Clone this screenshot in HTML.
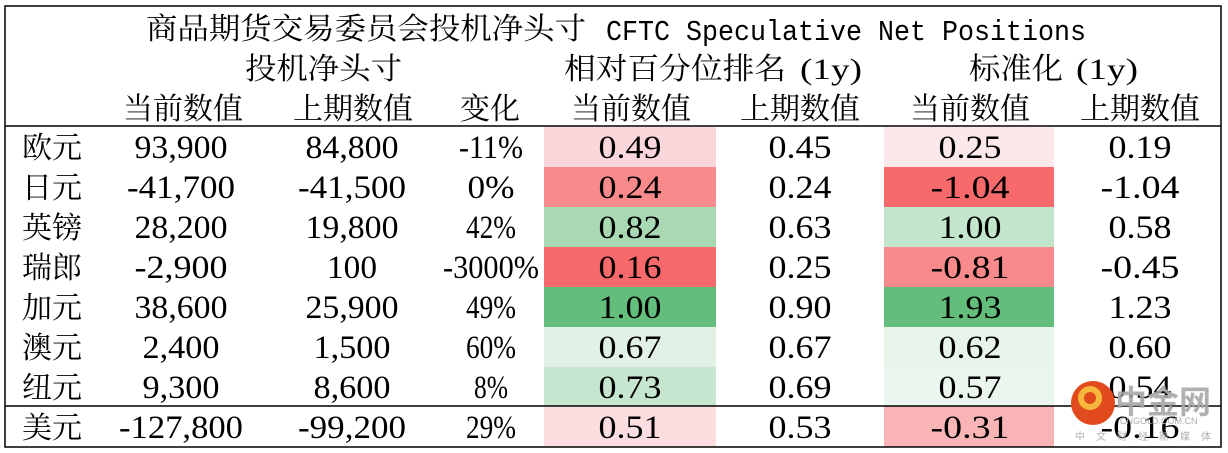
<!DOCTYPE html>
<html><head><meta charset="utf-8"><style>
html,body{margin:0;padding:0;background:#fff;}
svg{display:block;}
.c{font-family:"Noto Serif CJK SC","Liberation Serif",serif;font-size:30px;fill:#000;}
.n{font-family:"Liberation Serif",serif;font-size:33px;fill:#000;}
</style></head><body>
<svg width="1228" height="453" viewBox="0 0 1228 453" xmlns="http://www.w3.org/2000/svg">
<rect x="0" y="0" width="1228" height="453" fill="#fff"/>
<g>
<rect x="544" y="127" width="172" height="40" fill="#fbd7dc"/>
<rect x="544" y="167" width="172" height="40" fill="#f88a8c"/>
<rect x="544" y="207" width="172" height="40" fill="#a8d9b3"/>
<rect x="544" y="247" width="172" height="40" fill="#f8696b"/>
<rect x="544" y="287" width="172" height="40" fill="#63be7b"/>
<rect x="544" y="327" width="172" height="40" fill="#e1f1e5"/>
<rect x="544" y="367" width="172" height="39" fill="#c6e6cf"/>
<rect x="544" y="406" width="172" height="41" fill="#fcdde0"/>
<rect x="884" y="127" width="170" height="40" fill="#fce8eb"/>
<rect x="884" y="167" width="170" height="40" fill="#f8696b"/>
<rect x="884" y="207" width="170" height="40" fill="#c3e5cc"/>
<rect x="884" y="247" width="170" height="40" fill="#f98a8c"/>
<rect x="884" y="287" width="170" height="40" fill="#63be7b"/>
<rect x="884" y="327" width="170" height="40" fill="#e8f5eb"/>
<rect x="884" y="367" width="170" height="39" fill="#ebf6ee"/>
<rect x="884" y="406" width="170" height="41" fill="#f9b4b6"/>
</g>
<rect x="5" y="6" width="1216" height="441" fill="none" stroke="#000" stroke-width="1.5"/>
<line x1="5" y1="126" x2="1221" y2="126" stroke="#000" stroke-width="1.5"/>
<line x1="5" y1="406" x2="1221" y2="406" stroke="#000" stroke-width="1.5"/>

<text class="c" x="146" y="39" textLength="440" lengthAdjust="spacingAndGlyphs">商品期货交易委员会投机净头寸</text>
<text x="606" y="40" style="font-family:'Liberation Mono',monospace;font-size:29px" textLength="480" lengthAdjust="spacingAndGlyphs">CFTC Speculative Net Positions</text>
<text class="c" x="245" y="79" textLength="157" lengthAdjust="spacingAndGlyphs">投机净头寸</text>
<text class="c" x="564" y="79" textLength="222" lengthAdjust="spacingAndGlyphs">相对百分位排名</text>
<text x="800" y="79" style="font-family:'Liberation Serif',serif;font-size:30px" textLength="62" lengthAdjust="spacingAndGlyphs">(1y)</text>
<text class="c" x="969" y="79" textLength="94" lengthAdjust="spacingAndGlyphs">标准化</text>
<text x="1076" y="79" style="font-family:'Liberation Serif',serif;font-size:30px" textLength="62" lengthAdjust="spacingAndGlyphs">(1y)</text>
<g class="c" text-anchor="middle">
<text x="183" y="119">当前数值</text>
<text x="353" y="119">上期数值</text>
<text x="490" y="119">变化</text>
<text x="631" y="119">当前数值</text>
<text x="800" y="119">上期数值</text>
<text x="970" y="119">当前数值</text>
<text x="1140" y="119">上期数值</text>
</g>
<g class="c">
<text x="22" y="158">欧元</text>
<text x="22" y="198">日元</text>
<text x="22" y="238">英镑</text>
<text x="22" y="278">瑞郎</text>
<text x="22" y="318">加元</text>
<text x="22" y="358">澳元</text>
<text x="22" y="398">纽元</text>
<text x="22" y="438">美元</text>
</g>
<g class="n" text-anchor="middle">
<text x="181" y="158" textLength="93" lengthAdjust="spacingAndGlyphs">93,900</text>
<text x="352" y="158" textLength="93" lengthAdjust="spacingAndGlyphs">84,800</text>
<text x="491" y="158" textLength="64" lengthAdjust="spacingAndGlyphs">-11%</text>
<text x="630" y="158" textLength="63" lengthAdjust="spacingAndGlyphs">0.49</text>
<text x="800" y="158" textLength="63" lengthAdjust="spacingAndGlyphs">0.45</text>
<text x="970" y="158" textLength="63" lengthAdjust="spacingAndGlyphs">0.25</text>
<text x="1140" y="158" textLength="63" lengthAdjust="spacingAndGlyphs">0.19</text>

<text x="181" y="198" textLength="108" lengthAdjust="spacingAndGlyphs">-41,700</text>
<text x="352" y="198" textLength="108" lengthAdjust="spacingAndGlyphs">-41,500</text>
<text x="491" y="198" textLength="47" lengthAdjust="spacingAndGlyphs">0%</text>
<text x="630" y="198" textLength="63" lengthAdjust="spacingAndGlyphs">0.24</text>
<text x="800" y="198" textLength="63" lengthAdjust="spacingAndGlyphs">0.24</text>
<text x="970" y="198" textLength="79" lengthAdjust="spacingAndGlyphs">-1.04</text>
<text x="1140" y="198" textLength="79" lengthAdjust="spacingAndGlyphs">-1.04</text>

<text x="181" y="238" textLength="93" lengthAdjust="spacingAndGlyphs">28,200</text>
<text x="352" y="238" textLength="93" lengthAdjust="spacingAndGlyphs">19,800</text>
<text x="491" y="238" textLength="50" lengthAdjust="spacingAndGlyphs">42%</text>
<text x="630" y="238" textLength="63" lengthAdjust="spacingAndGlyphs">0.82</text>
<text x="800" y="238" textLength="63" lengthAdjust="spacingAndGlyphs">0.63</text>
<text x="970" y="238" textLength="63" lengthAdjust="spacingAndGlyphs">1.00</text>
<text x="1140" y="238" textLength="63" lengthAdjust="spacingAndGlyphs">0.58</text>

<text x="181" y="278" textLength="93" lengthAdjust="spacingAndGlyphs">-2,900</text>
<text x="352" y="278" textLength="50" lengthAdjust="spacingAndGlyphs">100</text>
<text x="491" y="278" textLength="96" lengthAdjust="spacingAndGlyphs">-3000%</text>
<text x="630" y="278" textLength="63" lengthAdjust="spacingAndGlyphs">0.16</text>
<text x="800" y="278" textLength="63" lengthAdjust="spacingAndGlyphs">0.25</text>
<text x="970" y="278" textLength="79" lengthAdjust="spacingAndGlyphs">-0.81</text>
<text x="1140" y="278" textLength="79" lengthAdjust="spacingAndGlyphs">-0.45</text>

<text x="181" y="318" textLength="93" lengthAdjust="spacingAndGlyphs">38,600</text>
<text x="352" y="318" textLength="93" lengthAdjust="spacingAndGlyphs">25,900</text>
<text x="491" y="318" textLength="50" lengthAdjust="spacingAndGlyphs">49%</text>
<text x="630" y="318" textLength="63" lengthAdjust="spacingAndGlyphs">1.00</text>
<text x="800" y="318" textLength="63" lengthAdjust="spacingAndGlyphs">0.90</text>
<text x="970" y="318" textLength="63" lengthAdjust="spacingAndGlyphs">1.93</text>
<text x="1140" y="318" textLength="63" lengthAdjust="spacingAndGlyphs">1.23</text>

<text x="181" y="358" textLength="77" lengthAdjust="spacingAndGlyphs">2,400</text>
<text x="352" y="358" textLength="77" lengthAdjust="spacingAndGlyphs">1,500</text>
<text x="491" y="358" textLength="50" lengthAdjust="spacingAndGlyphs">60%</text>
<text x="630" y="358" textLength="63" lengthAdjust="spacingAndGlyphs">0.67</text>
<text x="800" y="358" textLength="63" lengthAdjust="spacingAndGlyphs">0.67</text>
<text x="970" y="358" textLength="63" lengthAdjust="spacingAndGlyphs">0.62</text>
<text x="1140" y="358" textLength="63" lengthAdjust="spacingAndGlyphs">0.60</text>

<text x="181" y="398" textLength="77" lengthAdjust="spacingAndGlyphs">9,300</text>
<text x="352" y="398" textLength="77" lengthAdjust="spacingAndGlyphs">8,600</text>
<text x="491" y="398" textLength="34" lengthAdjust="spacingAndGlyphs">8%</text>
<text x="630" y="398" textLength="63" lengthAdjust="spacingAndGlyphs">0.73</text>
<text x="800" y="398" textLength="63" lengthAdjust="spacingAndGlyphs">0.69</text>
<text x="970" y="398" textLength="63" lengthAdjust="spacingAndGlyphs">0.57</text>
<text x="1140" y="398" textLength="63" lengthAdjust="spacingAndGlyphs">0.54</text>

<text x="181" y="438" textLength="124" lengthAdjust="spacingAndGlyphs">-127,800</text>
<text x="352" y="438" textLength="108" lengthAdjust="spacingAndGlyphs">-99,200</text>
<text x="491" y="438" textLength="50" lengthAdjust="spacingAndGlyphs">29%</text>
<text x="630" y="438" textLength="63" lengthAdjust="spacingAndGlyphs">0.51</text>
<text x="800" y="438" textLength="63" lengthAdjust="spacingAndGlyphs">0.53</text>
<text x="970" y="438" textLength="79" lengthAdjust="spacingAndGlyphs">-0.31</text>
<text x="1140" y="438" textLength="79" lengthAdjust="spacingAndGlyphs">-0.16</text>
</g>
<circle cx="1093" cy="403" r="22" fill="#e04a1c"/>
<circle cx="1090" cy="398" r="9" fill="none" stroke="#f6b73c" stroke-width="6"/>
<text x="1115" y="413" style="font-family:'Noto Sans CJK SC',sans-serif;font-size:32px;font-weight:bold;fill:#a8a8a8;opacity:0.9">中金网</text>
<text x="1120" y="424" style="font-family:'Liberation Sans',sans-serif;font-size:9px;fill:#b0b0b0">CNGOLD.COM.CN</text>
<text x="1075" y="440" style="font-family:'Noto Sans CJK SC',sans-serif;font-size:10px;fill:#b0b0b0;letter-spacing:11px">中文财经新媒体</text>
</svg>
</body></html>
